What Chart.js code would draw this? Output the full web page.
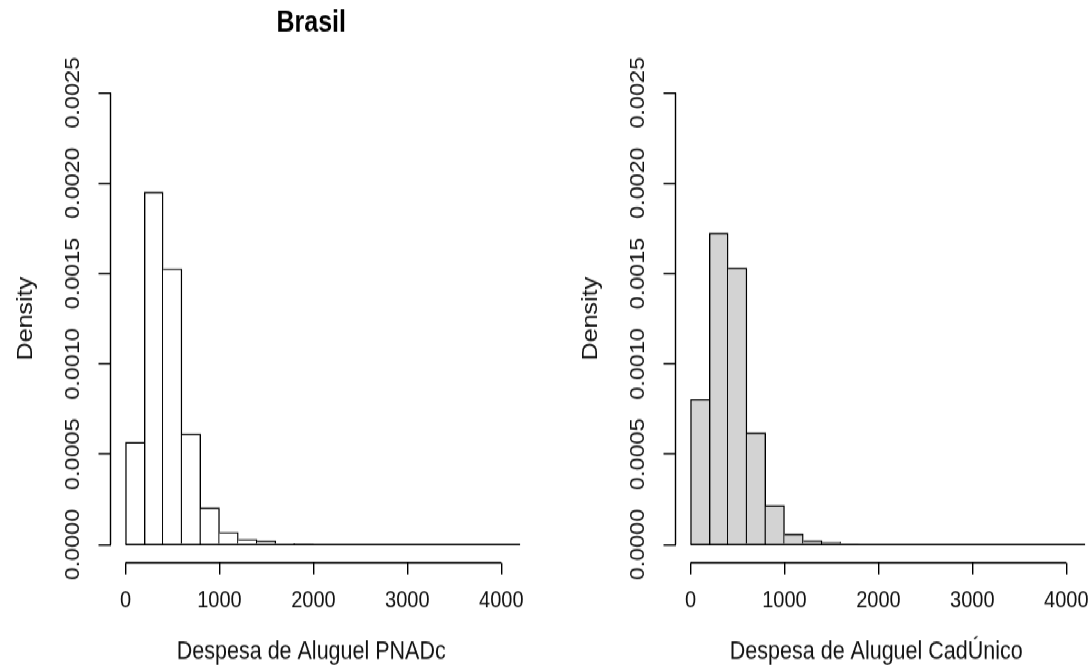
<!DOCTYPE html>
<html>
<head>
<meta charset="utf-8">
<script src="https://cdn.jsdelivr.net/npm/chart.js@4.4.1/dist/chart.umd.min.js"></script>
<style>
  html, body { margin: 0; padding: 0; background: #fff; overflow: hidden; }
  /* the source picture is stretched vertically, so draw at 569px and scale up */
  #stage { position: absolute; left: 0; top: 0; width: 1092px; height: 569px;
           transform: scale(1, 1.1705); transform-origin: 0 0; }
  canvas { position: absolute; top: 0; }
  #left { left: 0; }
  #right { left: 565px; }
</style>
</head>
<body>
<div id="stage">
  <canvas id="left" width="565" height="569"></canvas>
  <canvas id="right" width="527" height="569"></canvas>
</div>
<script>
// histogram breaks (same for both panels)
const binEdges = [0, 200, 400, 600, 800, 1000, 1200, 1400, 1600, 1800, 2000,
                  2200, 2400, 2600, 2800, 3000, 3200, 3400, 3600, 3800, 4000, 4200];

// densities
const densityPnad = [0.000566, 0.00195, 0.001525, 0.000611, 0.000203, 0.000068, 0.0000293,
                     0.00002, 0.000006, 0.000004, 0, 0, 0, 0, 0, 0, 0, 0, 0, 0, 0];
const densityCad = [0.000803, 0.001724, 0.00153, 0.000618, 0.000216, 0.0000587, 0.0000221,
                    0.0000127, 0.000005, 0, 0, 0, 0, 0, 0, 0, 0, 0, 0, 0, 0];

const xTickValues = [0, 1000, 2000, 3000, 4000];
const yTickValues = [0, 0.0005, 0.001, 0.0015, 0.002, 0.0025];

const mainTitle = 'Brasil';
const yLabel = 'Density';
const xLabelPnad = 'Despesa de Aluguel PNADc';
const xLabelCad = 'Despesa de Aluguel CadÚnico';

const LINE_W = 1.4;

Chart.defaults.font.family = "'Liberation Sans', Arial, sans-serif";
Chart.defaults.color = '#111';

// R style axis lines: only from first to last tick
const axisLines = {
    id: 'axisLines',
    afterDraw(chart) {
        const { ctx, chartArea, scales } = chart;
        ctx.save();
        ctx.strokeStyle = '#000';
        ctx.lineWidth = LINE_W;
        ctx.beginPath();
        ctx.moveTo(scales.x.getPixelForValue(xTickValues[0]), chartArea.bottom);
        ctx.lineTo(scales.x.getPixelForValue(xTickValues[xTickValues.length - 1]), chartArea.bottom);
        ctx.moveTo(chartArea.left, scales.y.getPixelForValue(yTickValues[0]));
        ctx.lineTo(chartArea.left, scales.y.getPixelForValue(yTickValues[yTickValues.length - 1]));
        ctx.stroke();
        ctx.restore();
    }
};

function makeHist(id, densities, fill, xLabel, title) {
    const canvas = document.getElementById(id);
    const bars = densities.map((d, i) => ({ x: (binEdges[i] + binEdges[i + 1]) / 2, y: d }));

    // shared edges drawn once, by the taller bar
    const borders = function (ctx) {
        const i = ctx.dataIndex;
        if (i === undefined) return LINE_W;
        const cur = densities[i];
        const prev = i > 0 ? densities[i - 1] : -1;
        const next = i < densities.length - 1 ? densities[i + 1] : -1;
        return { top: LINE_W, bottom: 0, left: prev < cur ? LINE_W : 0, right: next <= cur ? LINE_W : 0 };
    };

    return new Chart(canvas, {
        type: 'bar',
        data: {
            datasets: [{
                data: bars,
                backgroundColor: fill,
                borderColor: '#000',
                borderWidth: borders,
                borderSkipped: false,
                barPercentage: 1,
                categoryPercentage: 1,
                order: 1
            }, {
                type: 'line',
                data: [{ x: binEdges[0], y: 0 }, { x: binEdges[binEdges.length - 1], y: 0 }],
                borderColor: '#000',
                borderWidth: LINE_W,
                pointRadius: 0,
                clip: false,
                order: 0
            }]
        },
        options: {
            responsive: false,
            animation: false,
            layout: { padding: { left: 0, top: title ? 0 : 63.8, right: canvas.width - 512, bottom: 0 } },
            plugins: {
                legend: { display: false },
                tooltip: { enabled: false },
                title: {
                    display: !!title,
                    text: title,
                    fullSize: false,
                    color: '#000',
                    font: { size: 25, weight: 'bold', lineHeight: 1.2 },
                    padding: { top: 4.7, bottom: 29.1 }
                }
            },
            scales: {
                x: {
                    type: 'linear',
                    min: -160,
                    max: 4114,
                    offset: false,
                    afterBuildTicks: s => { s.ticks = xTickValues.map(v => ({ value: v })); },
                    afterFit: s => { s.height = 88.3; s.paddingLeft = 0; s.paddingRight = 0; },
                    grid: { display: true, offset: false, drawOnChartArea: false, drawTicks: true,
                            tickLength: 10, color: '#000', lineWidth: LINE_W },
                    border: { display: false },
                    ticks: { font: { size: 20 }, padding: 11, maxRotation: 0, autoSkip: false,
                             callback: v => String(v) },
                    title: { display: true, text: xLabel, font: { size: 21.5, lineHeight: 1 },
                             padding: { top: 0, bottom: 1 } }
                },
                y: {
                    min: -0.0001,
                    max: 0.0026,
                    afterBuildTicks: s => { s.ticks = yTickValues.map(v => ({ value: v })); },
                    afterFit: s => { s.width = 110.5; s.paddingTop = 0; s.paddingBottom = 0; },
                    grid: { display: true, offset: false, drawOnChartArea: false, drawTicks: true,
                            tickLength: 12, color: '#000', lineWidth: LINE_W },
                    border: { display: false },
                    ticks: { font: { size: 20 }, padding: -6, minRotation: 90, maxRotation: 90,
                             crossAlign: 'center', autoSkip: false, callback: v => v.toFixed(4) },
                    title: { display: true, text: yLabel, font: { size: 21.5, lineHeight: 1 },
                             padding: { top: 15.25, bottom: 0 } }
                }
            }
        },
        plugins: [axisLines]
    });
}

makeHist('left', densityPnad, '#ffffff', xLabelPnad, mainTitle);
makeHist('right', densityCad, '#d3d3d3', xLabelCad, '');
</script>
</body>
</html>
